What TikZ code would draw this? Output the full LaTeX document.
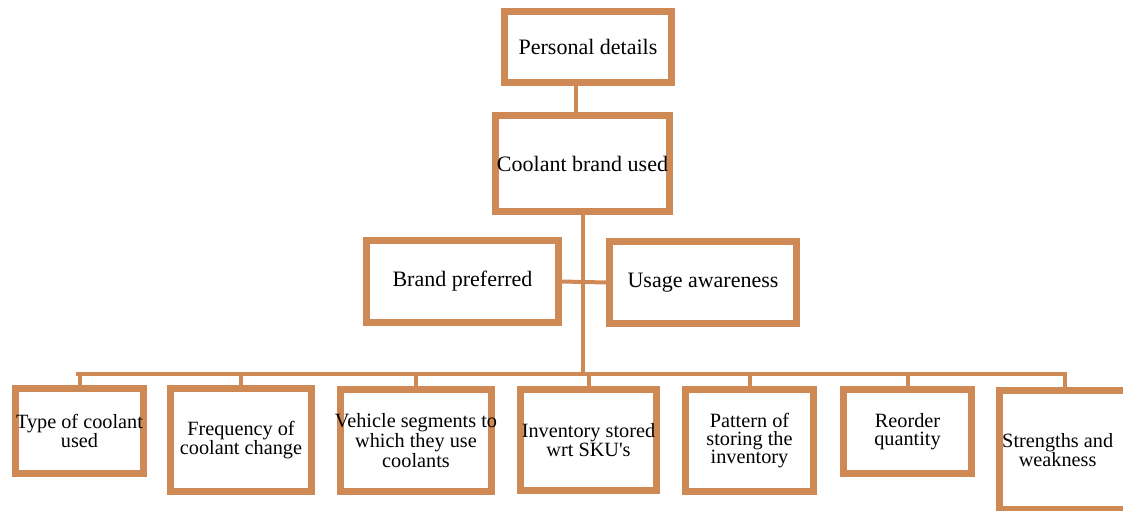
\documentclass[tikz,border=0pt]{standalone}
\usepackage{fontspec}
\setmainfont{Liberation Serif}
\usetikzlibrary{shadows}
\definecolor{boxorange}{RGB}{207,137,84}
\tikzset{
  box/.style={draw=boxorange, line width=5.2pt, fill=white, inner sep=0pt, align=center,
    drop shadow={shadow xshift=1.2pt, shadow yshift=-2pt, fill=black, opacity=0.18}},
  topbox/.style={box, font=\fontsize{16.5}{18}\selectfont},
  lowbox/.style={box, font=\fontsize{15.2}{13.8}\selectfont},
  link/.style={draw=boxorange, line width=3pt},
}
\begin{document}
\begin{tikzpicture}[x=0.75pt,y=-0.75pt]
\useasboundingbox (0,0) rectangle (1123,510);
\clip (0,0) rectangle (1123,510);
\fill[white] (0,0) rectangle (1123,510);

\node[topbox, minimum width=167*0.75pt, minimum height=71*0.75pt] (pd) at (588,47) {Personal details};
\node[topbox, minimum width=174*0.75pt, minimum height=96*0.75pt] (cb) at (582.5,163.5) {Coolant brand used};
\node[topbox, minimum width=192*0.75pt, minimum height=82*0.75pt] (bp) at (462.5,281.5) {Brand preferred};
\node[topbox, minimum width=187*0.75pt, minimum height=82*0.75pt] (ua) at (703,282.5) {Usage awareness};

\node[lowbox, minimum width=128*0.75pt, minimum height=85*0.75pt] (b1) at (79.5,431) {\makebox[0pt]{Type of coolant}\\used};
\node[lowbox, minimum width=141*0.75pt, minimum height=103*0.75pt] (b2) at (241,440) {Frequency of\\coolant change};
\node[lowbox, minimum width=151*0.75pt, minimum height=102*0.75pt] (b3) at (416,440.5) {\makebox[0pt]{Vehicle segments to}\\which they use\\coolants};
\node[lowbox, minimum width=136*0.75pt, minimum height=101*0.75pt] (b4) at (588.5,440) {Inventory stored\\wrt SKU\textquotesingle s};
\node[lowbox, minimum width=128*0.75pt, minimum height=102*0.75pt] (b5) at (749.5,440.5) {Pattern of\\storing the\\inventory};
\node[lowbox, minimum width=128*0.75pt, minimum height=84*0.75pt] (b6) at (907.5,431.5) {Reorder\\quantity};
\node[lowbox, minimum width=131*0.75pt, minimum height=119*0.75pt] (b7) at (1065,450) {\hspace*{-11pt}Strengths and\\\hspace*{-11pt}weakness};

\coordinate (barL) at (78,374);
\coordinate (barR) at (1065,374);

\draw[link] ([xshift=-9pt]pd.south) -- ([xshift=-9pt]pd.south |- cb.north);
\draw[link] (cb.south) -- (cb.south |- barL);
\draw[link] (bp.east) -- (ua.west);
\draw[link] ([xshift=-1.5pt]barL) -- ([xshift=1.5pt]barR);
\foreach \b in {b1,b2,b3,b4,b5,b6,b7} {
  \draw[link] ([yshift=1.3pt]barL -| \b.north) -- ([yshift=-2.6pt]\b.north);
}
\end{tikzpicture}
\end{document}
